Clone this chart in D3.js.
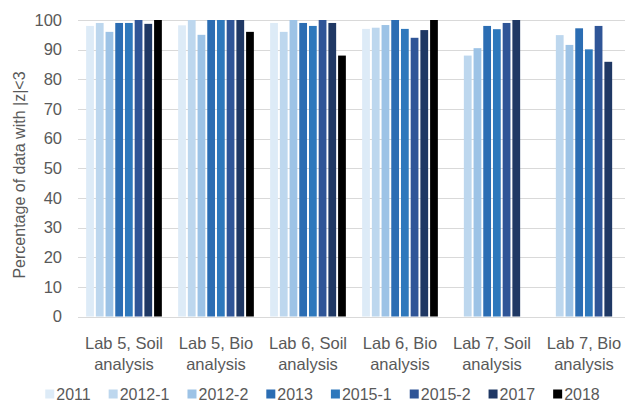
<!DOCTYPE html>
<html>
<head>
<meta charset="utf-8">
<title>Percentage of data with |z|<3</title>
<style>
  body { margin: 0; background: #fff; }
  text { font-family: "Liberation Sans", Arial, sans-serif; fill: #595959; }
</style>
</head>
<body>
<svg width="625" height="404"></svg>
<script src="https://cdn.jsdelivr.net/npm/d3@7"></script>
<script>
  // chart data
  var categories = ["Lab 5, Soil analysis", "Lab 5, Bio analysis", "Lab 6, Soil analysis",
                    "Lab 6, Bio analysis", "Lab 7, Soil analysis", "Lab 7, Bio analysis"];
  var series = ["2011", "2012-1", "2012-2", "2013", "2015-1", "2015-2", "2017", "2018"];
  var colors = ["#DDEBF7", "#BDD7EE", "#9DC3E6", "#2B6DB3", "#2E78BC", "#2F5597", "#1F3864", "#000000"];
  // one row per category, one value per series (null = no bar)
  var lab5Soil = [98, 99, 96, 99, 99, 100, 98.7, 100];
  var lab5Bio  = [98.2, 100, 95, 100, 100, 100, 100, 96];
  var lab6Soil = [99, 96, 100, 99, 98, 100, 99, 88];
  var lab6Bio  = [97, 97.4, 98.3, 100, 97, 94, 96.6, 100];
  var lab7Soil = [null, 88, 90.5, 98, 96.9, 99, 100, null];
  var lab7Bio  = [null, 94.9, 91.6, 97.2, 90.1, 98, 85.9, null];
  var yTicks = [0, 10, 20, 30, 40, 50, 60, 70, 80, 90, 100];

  var rows = [lab5Soil, lab5Bio, lab6Soil, lab6Bio, lab7Soil, lab7Bio];

  var svg = d3.select("svg");

  // scales: plot area runs a bit past the right edge (cropped like the original)
  var x0 = d3.scaleBand()
    .domain(categories)
    .range([78, 630])
    .paddingInner(0.177)
    .paddingOuter(0.0885);

  var x1 = d3.scaleBand()
    .domain(series)
    .range([0, x0.bandwidth()])
    .paddingInner(0.2);

  var y = d3.scaleLinear()
    .domain([0, 100])
    .range([316.5, 20]);

  var z = d3.scaleOrdinal().domain(series).range(colors);

  // gridlines
  svg.append("g")
    .selectAll("line")
    .data(yTicks)
    .enter().append("line")
    .attr("x1", 78)
    .attr("x2", 625)
    .attr("y1", function (d) { return Math.round(y(d)) + 0.5; })
    .attr("y2", function (d) { return Math.round(y(d)) + 0.5; })
    .attr("stroke", "#D9D9D9")
    .attr("stroke-width", 1);

  // y tick labels
  svg.append("g")
    .selectAll("text")
    .data(yTicks)
    .enter().append("text")
    .attr("x", 62)
    .attr("y", function (d) { return y(d); })
    .attr("dy", "0.35em")
    .attr("text-anchor", "end")
    .style("font-size", "16.5px")
    .text(function (d) { return d; });

  // bars
  svg.append("g")
    .selectAll("g")
    .data(rows)
    .enter().append("g")
    .attr("transform", function (d, i) { return "translate(" + x0(categories[i]) + ",0)"; })
    .selectAll("rect")
    .data(function (d) {
      return d.map(function (v, j) { return { key: series[j], value: v }; })
              .filter(function (e) { return e.value != null; });
    })
    .enter().append("rect")
    .attr("x", function (d) { return x1(d.key); })
    .attr("y", function (d) { return y(d.value); })
    .attr("width", x1.bandwidth())
    .attr("height", function (d) { return y(0) - y(d.value); })
    .attr("fill", function (d) { return z(d.key); });

  // category labels, wrapped on two lines
  var catLabels = svg.append("g")
    .selectAll("text")
    .data(categories)
    .enter().append("text")
    .attr("text-anchor", "middle")
    .style("font-size", "16.5px")
    .attr("transform", function (d) { return "translate(" + (x0(d) + x0.bandwidth() / 2) + ",0)"; });

  catLabels.append("tspan")
    .attr("x", 0)
    .attr("y", 349)
    .text(function (d) { return d.slice(0, d.lastIndexOf(" ")); });

  catLabels.append("tspan")
    .attr("x", 0)
    .attr("y", 369.5)
    .text(function (d) { return d.slice(d.lastIndexOf(" ") + 1); });

  // y axis title
  svg.append("text")
    .attr("transform", "translate(25,175) rotate(-90)")
    .attr("text-anchor", "middle")
    .style("font-size", "16px")
    .text("Percentage of data with |z|<3");

  // legend, laid out from measured text widths and centred
  var legend = svg.append("g");
  var items = legend.selectAll("g")
    .data(series)
    .enter().append("g");

  items.append("rect")
    .attr("width", 9)
    .attr("height", 9)
    .attr("y", 389.5)
    .attr("fill", z);

  items.append("text")
    .attr("x", 11)
    .attr("y", 400)
    .style("font-size", "16px")
    .text(function (d) { return d; });

  var gap = 18;
  var pos = 0;
  items.each(function () {
    var w = this.querySelector("text").getComputedTextLength();
    d3.select(this).attr("transform", "translate(" + pos + ",0)");
    pos += 11 + w + gap;
  });
  var total = pos - gap;
  legend.attr("transform", "translate(" + (322.5 - total / 2) + ",0)");
</script>
</body>
</html>
